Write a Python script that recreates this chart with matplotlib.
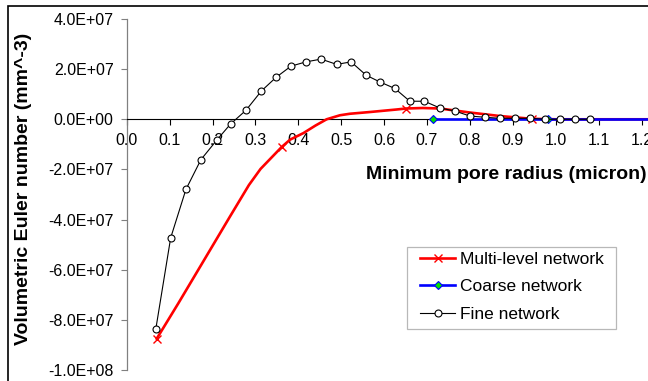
import matplotlib
matplotlib.use("Agg")
import matplotlib.pyplot as plt
from matplotlib.patches import Rectangle
from matplotlib.ticker import FuncFormatter, MultipleLocator

plt.rcParams['font.family'] = ['Liberation Sans', 'DejaVu Sans']

# ---- data ----
fine_x = [0.068, 0.1025, 0.138, 0.173, 0.211, 0.242, 0.278, 0.314, 0.348, 0.383,
          0.418, 0.453, 0.4895, 0.523, 0.558, 0.590, 0.625, 0.660, 0.694, 0.730,
          0.765, 0.800, 0.835, 0.870, 0.905, 0.940, 0.975, 1.010, 1.045, 1.080]
fine_y = [-8.35e7, -4.73e7, -2.80e7, -1.61e7, -0.81e7, -0.19e7, 0.36e7, 1.13e7, 1.67e7, 2.12e7,
          2.29e7, 2.40e7, 2.19e7, 2.29e7, 1.76e7, 1.49e7, 1.23e7, 0.72e7, 0.72e7, 0.45e7,
          0.33e7, 0.13e7, 0.08e7, 0.04e7, 0.04e7, 0.04e7, 0.0, 0.0, 0.0, 0.0]

multi_x = [0.07, 0.12, 0.175, 0.24, 0.285, 0.312, 0.361, 0.381, 0.412, 0.44, 0.466, 0.497, 0.52,
           0.567, 0.629, 0.651, 0.69, 0.73, 0.80, 0.87, 0.944, 1.0, 1.235]
multi_y = [-8.75e7, -7.35e7, -5.77e7, -3.90e7, -2.62e7, -1.98e7, -1.11e7, -0.81e7, -0.55e7,
           -0.25e7, 0.0, 0.16e7, 0.22e7, 0.29e7, 0.39e7, 0.43e7, 0.45e7, 0.43e7, 0.27e7,
           0.13e7, 0.02e7, 0.0, 0.0]
multi_marked = [0, 6, 15, 20, 22]

coarse_x = [0.713, 0.983, 1.253]
coarse_y = [0.0, 0.0, 0.0]

labels = ["Multi-level network", "Coarse network", "Fine network"]
xlabel = "Minimum pore radius (micron)"
ylabel = "Volumetric Euler number (mm^-3)"

W, H = 648, 381
fig = plt.figure(figsize=(W / 100, H / 100), dpi=100)

# axes placement (pixel based)
x0_px, xmax = 126.7, 1.25
px_per_unit = 429.0
left = x0_px / W
width = (xmax * px_per_unit) / W
bottom = (H - 370) / H
top = (H - 19) / H
ax = fig.add_axes([left, bottom, width, top - bottom])
ax.set_xlim(0, xmax)
ax.set_ylim(-1e8, 4e7)

l1, = ax.plot(multi_x, multi_y, color='#ff0000', lw=1.9, marker='x', markersize=5.5,
              markeredgewidth=1.0, markevery=multi_marked, label=labels[0], zorder=3)
l2, = ax.plot(coarse_x, coarse_y, color='#0000ff', lw=1.9, marker='D', markersize=4,
              markerfacecolor='#00e000', markeredgecolor='#0000ff', markeredgewidth=0.8,
              label=labels[1], zorder=4)
l3, = ax.plot(fine_x, fine_y, color='black', lw=0.8, marker='o', markersize=5,
              markerfacecolor='white', markeredgecolor='black', markeredgewidth=0.8,
              label=labels[2], zorder=5)

for s in ['top', 'right']:
    ax.spines[s].set_visible(False)
ax.spines['bottom'].set_position(('data', 0))
ax.spines['bottom'].set_color('black')
ax.spines['bottom'].set_linewidth(0.8)
ax.spines['left'].set_color('#808080')
ax.spines['left'].set_linewidth(0.9)

ax.xaxis.set_major_locator(MultipleLocator(0.1))
ax.yaxis.set_major_locator(MultipleLocator(2e7))
ax.xaxis.set_major_formatter(FuncFormatter(lambda v, p: f"{v:.1f}"))

def sci(v, p):
    s = f"{v:.1E}"
    mant, exp = s.split("E")
    sign = exp[0]
    return f"{mant}E{sign}{int(exp[1:]):02d}"
ax.yaxis.set_major_formatter(FuncFormatter(sci))

ax.tick_params(axis='x', direction='out', length=4.5, width=0.8, color='black',
               labelsize=11.5, pad=5.5)
ax.tick_params(axis='y', direction='out', length=4.5, width=0.8, color='#808080',
               labelsize=11.5, pad=5)
for t in ax.get_xticklabels() + ax.get_yticklabels():
    t.set_color('black')
ax.patch.set_alpha(0)

# axis titles
fig.text(647 / W, 1 - 174 / H, xlabel, ha='right', va='center',
         fontsize=14, fontweight='bold')
fig.text(24 / W, 1 - 189 / H, ylabel, ha='center', va='center', rotation=90,
         fontsize=14, fontweight='bold')

# chart-area border (right/bottom cropped in reference)
fig.patches.append(Rectangle((8 / W, -0.1), 2.0, (H - 6) / H + 0.1, transform=fig.transFigure,
                             fill=False, edgecolor='black', lw=1.2, clip_on=False))

# legend box
lx0, ly0, lx1, ly1 = 406.7, 246.7, 615.7, 329.3
fig.patches.append(Rectangle((lx0 / W, 1 - ly1 / H), (lx1 - lx0) / W, (ly1 - ly0) / H,
                             transform=fig.transFigure, facecolor='white',
                             edgecolor='#b8b8b8', lw=0.9, zorder=10))
leg = fig.legend(handles=[l1, l2, l3], labels=labels, loc='upper left',
                 bbox_to_anchor=(417 / W, 1 - 248 / H), frameon=False,
                 fontsize=12.5, handlelength=2.0, handletextpad=0.3,
                 labelspacing=0.72, borderpad=0.2, borderaxespad=0)
leg.set_zorder(11)

fig.savefig("out.png", dpi=100)
